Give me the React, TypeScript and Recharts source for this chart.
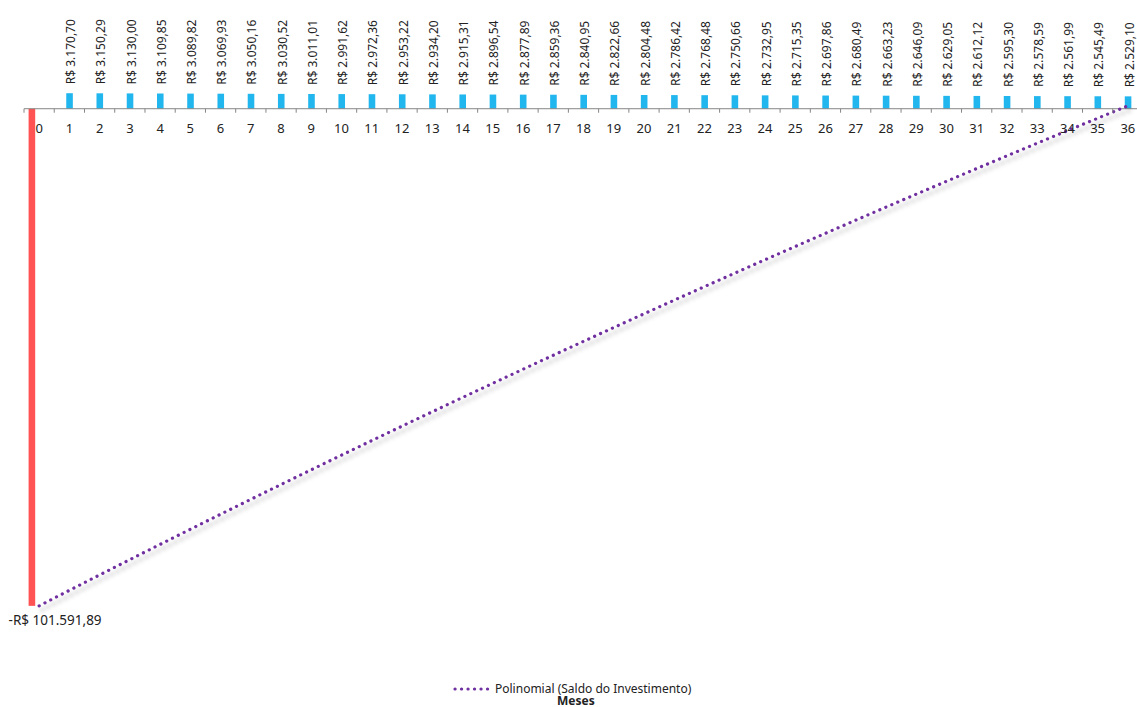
import React from 'react';
import { ComposedChart, Bar, Line, XAxis, YAxis, ReferenceLine, Legend, LabelList } from 'recharts';

const meses = ['0', '1', '2', '3', '4', '5', '6', '7', '8', '9', '10', '11', '12', '13', '14', '15', '16', '17', '18',
  '19', '20', '21', '22', '23', '24', '25', '26', '27', '28', '29', '30', '31', '32', '33', '34', '35', '36'];

// investimento inicial (só no mês 0)
const investimento = [-101591.89];

const retornoMensal = [0, 3170.70, 3150.29, 3130.00, 3109.85, 3089.82, 3069.93, 3050.16, 3030.52, 3011.01, 2991.62,
  2972.36, 2953.22, 2934.20, 2915.31, 2896.54, 2877.89, 2859.36, 2840.95, 2822.66, 2804.48, 2786.42, 2768.48,
  2750.66, 2732.95, 2715.35, 2697.86, 2680.49, 2663.23, 2646.09, 2629.05, 2612.12, 2595.30, 2578.59, 2561.99,
  2545.49, 2529.10];

// saldo acumulado (linha de tendência)
const saldoInvestimento = [-101591.89, -98421.19, -95270.90, -92140.90, -89031.05, -85941.23, -82871.30, -79821.14,
  -76790.62, -73779.61, -70787.99, -67815.63, -64862.41, -61928.21, -59012.90, -56116.36, -53238.47, -50379.11,
  -47538.16, -44715.50, -41911.02, -39124.60, -36356.12, -33605.46, -30872.51, -28157.16, -25459.30, -22778.81,
  -20115.58, -17469.49, -14840.44, -12228.32, -9633.02, -7054.43, -4492.44, -1946.95, 582.15];

const data = meses.map((mes, i) => ({
  mes,
  investimento: investimento[i] ?? null,
  retorno: retornoMensal[i],
  saldo: saldoInvestimento[i],
}));

const CHART_W = 1143;
const CHART_H = 707;
const MARGIN_LEFT = 24;
const MARGIN_TOP = 50;
const PLOT_H = 597;
const XAXIS_H = 20;
const Y_MIN = -110000;
const Y_MAX = 12000;
const ZERO_Y = MARGIN_TOP + PLOT_H * (Y_MAX / (Y_MAX - Y_MIN));
const BAND = (CHART_W - MARGIN_LEFT) / meses.length;
const RED_SHIFT = 7.4;

const formatBRL = (v: number) => {
  const neg = v < 0;
  const [int, dec] = Math.abs(v).toFixed(2).split('.');
  const intFmt = int.replace(/\B(?=(\d{3})+(?!\d))/g, '.');
  return `${neg ? '-' : ''}R$ ${intFmt},${dec}`;
};

const InvestShape = (props: any) => {
  const { x, y, width, height } = props;
  if (!height) return null;
  const top = Math.min(y, y + height);
  return <rect x={x - RED_SHIFT} y={top} width={width} height={Math.abs(height)} fill="#FF5252" />;
};

const renderInvestLabel = (props: any) => {
  const { x, y, height, value } = props;
  if (value == null || value === 0) return null;
  const bottom = Math.max(y, y + height);
  return (
    <text x={x - RED_SHIFT - 20} y={bottom + 19} fontSize={13.5} fill="#222" textAnchor="start">
      {formatBRL(value)}
    </text>
  );
};

const renderRetornoLabel = (props: any) => {
  const { x, y, width, value } = props;
  if (!value) return null;
  const cx = x + width / 2 + 1;
  const y0 = y - 9;
  return (
    <text x={cx} y={y0} transform={`rotate(-90 ${cx} ${y0})`} textAnchor="start" dominantBaseline="central"
      fontSize={12} fill="#222">
      {formatBRL(value)}
    </text>
  );
};

const MesTick = (props: any) => {
  const { x, payload, index } = props;
  return (
    <g>
      <line x1={x - BAND / 2} x2={x - BAND / 2} y1={ZERO_Y} y2={ZERO_Y + 4} stroke="#868686" />
      {index === meses.length - 1 && (
        <line x1={x + BAND / 2} x2={x + BAND / 2} y1={ZERO_Y} y2={ZERO_Y + 4} stroke="#868686" />
      )}
      <text x={x} y={ZERO_Y + 24} textAnchor="middle" fontSize={13} fill="#222">{payload.value}</text>
    </g>
  );
};

// altura zero para não roubar espaço do gráfico
const renderLegend = () => (
  <div style={{ position: 'relative', width: 1137, height: 0, fontSize: 12, color: '#222' }}>
    <div style={{ position: 'absolute', left: 452, top: 0, display: 'flex', alignItems: 'center', whiteSpace: 'nowrap' }}>
      <svg width={40} height={16}>
        <line x1={3} x2={38} y1={8} y2={8} stroke="#7030A0" strokeWidth={3.2} strokeDasharray="0.1 6.4"
          strokeLinecap="round" />
      </svg>
      <span style={{ marginLeft: 3, lineHeight: '16px' }}>Polinomial (Saldo do Investimento)</span>
    </div>
    <div style={{ position: 'absolute', left: 557, top: 13, fontWeight: 'bold', lineHeight: '13px' }}>Meses</div>
  </div>
);

export default function App() {
  return (
    <div style={{ position: 'absolute', left: 0, top: 0, width: 1137, height: 707, overflow: 'hidden',
      background: '#fff', fontFamily: '"Noto Sans", sans-serif' }}>
      <ComposedChart
        width={CHART_W}
        height={CHART_H}
        data={data}
        stackOffset="sign"
        margin={{ top: MARGIN_TOP, right: 0, left: MARGIN_LEFT, bottom: CHART_H - MARGIN_TOP - PLOT_H - XAXIS_H }}
      >
        <XAxis dataKey="mes" interval={0} axisLine={false} tickLine={false} tick={<MesTick />} height={XAXIS_H} />
        <YAxis hide domain={[Y_MIN, Y_MAX]} />
        <ReferenceLine y={0} stroke="#868686" strokeWidth={1} />
        <Bar dataKey="investimento" stackId="s" barSize={6.6} shape={<InvestShape />} legendType="none"
          isAnimationActive={false}>
          <LabelList dataKey="investimento" content={renderInvestLabel} />
        </Bar>
        <Bar dataKey="retorno" stackId="s" barSize={6.6} fill="#22B6EE" legendType="none" isAnimationActive={false}>
          <LabelList dataKey="retorno" content={renderRetornoLabel} />
        </Bar>
        <Line
          dataKey="saldo"
          name="Polinomial (Saldo do Investimento)"
          stroke="#7030A0"
          strokeWidth={3.2}
          strokeDasharray="0.1 6.4"
          strokeLinecap="round"
          dot={false}
          activeDot={false}
          type="monotone"
          isAnimationActive={false}
          style={{ filter: 'drop-shadow(3px 4px 2px rgba(0,0,0,0.3))' }}
        />
        <Legend content={renderLegend} wrapperStyle={{ position: 'absolute', left: 0, top: 681, width: 1137, height: 0 }} />
      </ComposedChart>
    </div>
  );
}
